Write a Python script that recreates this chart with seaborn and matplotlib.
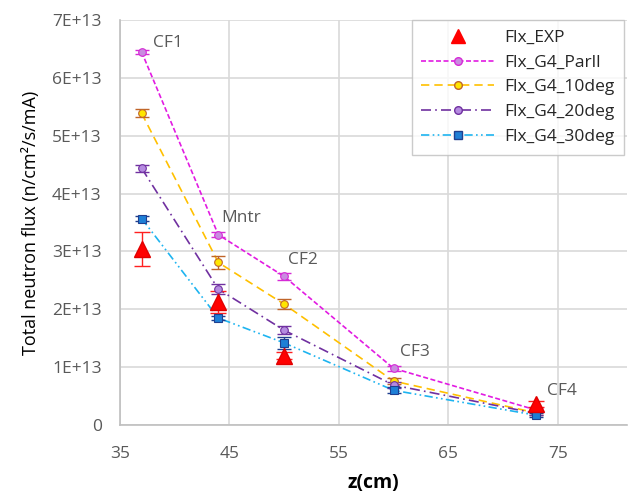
import numpy as np
import pandas as pd
import seaborn as sns
from matplotlib import pyplot as plt
from matplotlib.lines import Line2D

# data
z_exp = [37, 44, 50, 73]
flx_exp = [3.04e13, 2.12e13, 1.20e13, 0.36e13]
err_exp = [0.29e13, 0.19e13, 0.06e13, 0.05e13]

z_sim = [37, 44, 50, 60, 73]
flx_parll = [6.45e13, 3.29e13, 2.57e13, 0.98e13, 0.26e13]
flx_10deg = [5.39e13, 2.81e13, 2.09e13, 0.76e13, 0.21e13]
flx_20deg = [4.44e13, 2.35e13, 1.64e13, 0.69e13, 0.20e13]
flx_30deg = [3.57e13, 1.85e13, 1.42e13, 0.60e13, 0.17e13]
err_parll = [0.04e13, 0.04e13, 0.06e13, 0.04e13, 0.03e13]
err_10deg = [0.07e13, 0.12e13, 0.08e13, 0.05e13, 0.03e13]
err_20deg = [0.06e13, 0.08e13, 0.07e13, 0.05e13, 0.03e13]
err_30deg = [0.04e13, 0.04e13, 0.10e13, 0.05e13, 0.03e13]

pos_labels = ['CF1', 'Mntr', 'CF2', 'CF3', 'CF4']
pos_z = [37, 44, 50, 60, 73]
pos_y = [6.45e13, 3.29e13, 2.57e13, 0.98e13, 0.36e13]

sns.set_style('white')
plt.rcParams['font.family'] = ['Open Sans', 'DejaVu Sans']

fig = plt.figure(figsize=(6.3, 4.95), dpi=100)
ax = fig.add_axes([0.19, 0.1414, 0.805, 0.818])

series = [
    ('Flx_G4_Parll', flx_parll, err_parll, '#E21BE2', '#C98BE0', '#D62AD6', 'o', (3, 1.5)),
    ('Flx_G4_10deg', flx_10deg, err_10deg, '#FFC000', '#FFE600', '#C0652A', 'o', (5, 3)),
    ('Flx_G4_20deg', flx_20deg, err_20deg, '#7030A0', '#B58BE0', '#7030A0', 'o', (6, 2.5, 1, 2.5)),
    ('Flx_G4_30deg', flx_30deg, err_30deg, '#1EB4F0', '#1E7FD6', '#1F3F8F', 's', (5, 2, 1, 2, 1, 2)),
]

# experimental points
ax.errorbar(z_exp, flx_exp, yerr=err_exp, fmt='none', ecolor='#FF2020',
            elinewidth=1, capsize=5.5, zorder=5)
ax.plot(z_exp, flx_exp, linestyle='none', marker='^', markersize=11,
        color='#FF0000', markeredgecolor='#E00000', zorder=6)

for name, vals, errs, lc, fc, ec, mk, dash in series:
    df = pd.DataFrame({'z': z_sim, 'flx': vals})
    sns.lineplot(data=df, x='z', y='flx', ax=ax, color=lc, linewidth=1.2,
                 legend=False, zorder=3)
    ax.lines[-1].set_dashes(dash)
    ax.errorbar(z_sim, vals, yerr=errs, fmt='none', ecolor=ec, elinewidth=1,
                capsize=5, zorder=4)
    ax.plot(z_sim, vals, linestyle='none', marker=mk, markersize=5.5,
            markerfacecolor=fc, markeredgecolor=ec, markeredgewidth=0.8, zorder=5)

# legend handles with markers
handles = [Line2D([], [], linestyle='none', marker='^', markersize=10, color='#FF0000')]
for name, vals, errs, lc, fc, ec, mk, dash in series:
    h = Line2D([], [], color=lc, linewidth=1.2, marker=mk, markersize=5.5,
               markerfacecolor=fc, markeredgecolor=ec)
    h.set_dashes(dash)
    handles.append(h)
labels = ['Flx_EXP'] + [s[0] for s in series]
leg = ax.legend(handles, labels, loc='upper right', bbox_to_anchor=(0.995, 1.0),
                fontsize=12.5, frameon=True, fancybox=False, handlelength=4.2,
                handletextpad=0.6, borderpad=0.55, labelspacing=0.5, borderaxespad=0)
leg.get_frame().set_edgecolor('#BFBFBF')
leg.get_frame().set_linewidth(1)

text_offsets = [(8, 1), (2, 6), (3, 6), (5, 6), (8, 4)]
for lab, xz, yv, off in zip(pos_labels, pos_z, pos_y, text_offsets):
    ax.annotate(lab, (xz, yv), xytext=off, textcoords='offset points',
                fontsize=12.5, color='#595959', ha='left', va='bottom')

ax.set_xlim(35, 81.3)
ax.set_ylim(0, 7e13)
ax.set_xticks([35, 45, 55, 65, 75])
ax.set_yticks(np.arange(0, 8e13, 1e13))
ax.set_yticklabels(['0'] + ['%dE+13' % i for i in range(1, 8)])
ax.grid(True, color='#D9D9D9', linewidth=1.2)
ax.set_axisbelow(True)
for s in ['top', 'right']:
    ax.spines[s].set_visible(False)
for s in ['left', 'bottom']:
    ax.spines[s].set_color('#BFBFBF')
    ax.spines[s].set_linewidth(1.2)
ax.tick_params(axis='y', labelsize=12.5, colors='#595959', length=0, pad=13)
ax.tick_params(axis='x', labelsize=12.5, colors='#595959', length=0, pad=15)
ax.set_xlabel('z(cm)', fontsize=14, fontweight='bold', color='black', labelpad=8)
ax.set_ylabel('Total neutron flux (n/cm²/s/mA)', fontsize=13, color='black', labelpad=9)

fig.savefig('out.png', dpi=100)
